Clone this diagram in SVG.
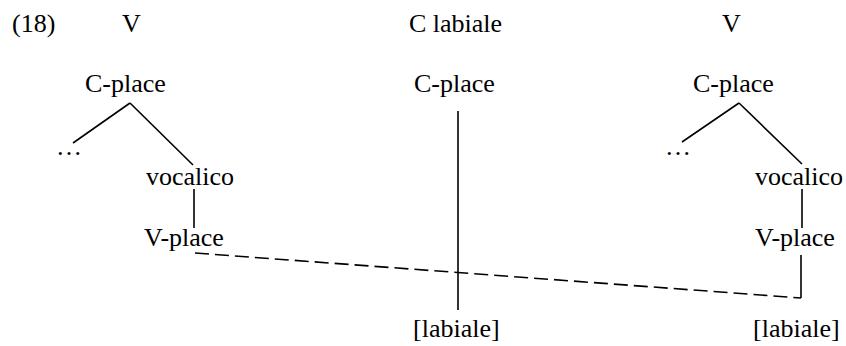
<svg xmlns="http://www.w3.org/2000/svg" width="846" height="346" viewBox="0 0 846 346">
<style>
text{font-family:"Liberation Serif","Times New Roman",serif;font-size:26px;fill:#000}
.l{stroke:#000;stroke-width:1.6;fill:none}
.d{stroke:#000;stroke-width:1.6;fill:none;stroke-dasharray:14 6}
</style>
<rect width="846" height="346" fill="#fff"/>
<g id="labels">
<text x="12" y="32">(18)</text>
<text x="122" y="32">V</text>
<text x="409" y="32">C labiale</text>
<text x="722" y="32">V</text>
</g>
<g id="left-cplace"><text x="85" y="92">C-place</text></g>
<g id="left-dots"><text x="56" y="155">…</text></g>
<g id="left-vocalico"><text x="146" y="185">vocalico</text></g>
<g id="left-vplace"><text x="144" y="246">V-place</text></g>
<g id="mid-cplace"><text x="414" y="92">C-place</text></g>
<g id="mid-labiale"><text x="413" y="337">[labiale]</text></g>
<g id="right-cplace"><text x="693" y="92">C-place</text></g>
<g id="right-dots"><text x="665" y="155">…</text></g>
<g id="right-vocalico"><text x="755" y="185">vocalico</text></g>
<g id="right-vplace"><text x="755" y="246">V-place</text></g>
<g id="right-labiale"><text x="753" y="337">[labiale]</text></g>
<g id="connectors">
<line class="l" x1="130" y1="103" x2="73" y2="143"/>
<line class="l" x1="130" y1="103" x2="193" y2="165"/>
<line class="l" x1="194" y1="189" x2="194" y2="228"/>
<line class="l" x1="458" y1="111" x2="458" y2="310"/>
<line class="l" x1="739" y1="103" x2="682" y2="142"/>
<line class="l" x1="739" y1="103" x2="802" y2="164"/>
<line class="l" x1="802" y1="189" x2="802" y2="228"/>
<line class="l" x1="801" y1="255" x2="801" y2="298"/>
<line class="d" x1="195" y1="253" x2="801" y2="298"/>
</g>
</svg>
